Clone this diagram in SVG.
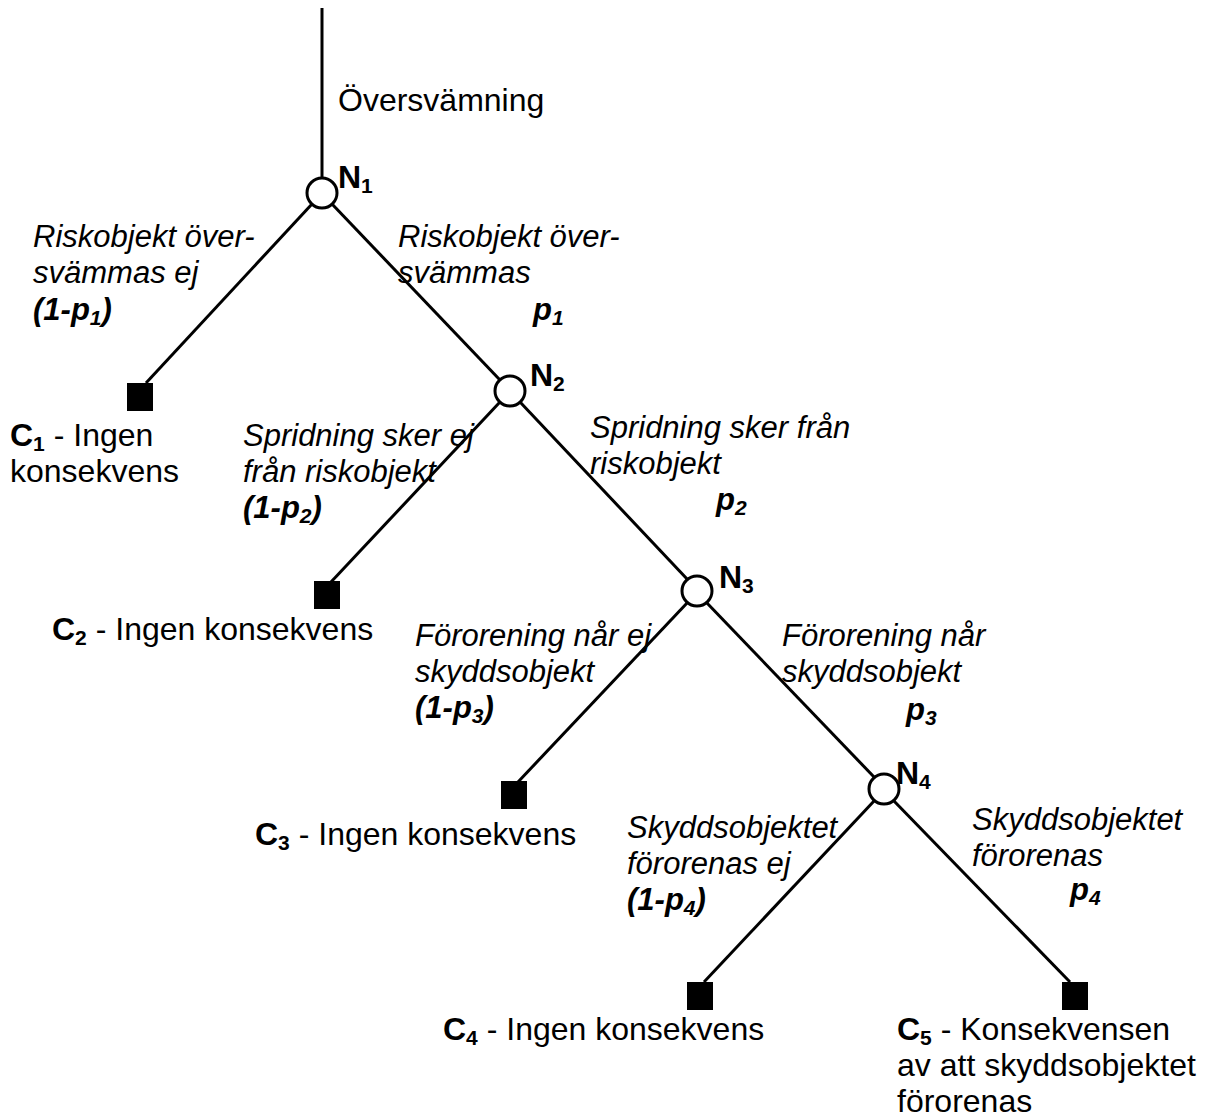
<svg xmlns="http://www.w3.org/2000/svg" width="1205" height="1119" viewBox="0 0 1205 1119">
<style>
text{font-family:"Liberation Sans",Arial,sans-serif;font-size:32px;fill:#000}
.i{font-style:italic;font-size:31px}
.b{font-weight:bold}
.bi{font-style:italic;font-weight:bold;font-size:31px}
.s{font-size:21px}
.ln{stroke:#000;stroke-width:3;fill:none}
.chance{fill:#fff;stroke:#000;stroke-width:3}
.end{fill:#000}
</style>
<rect width="1205" height="1119" fill="#fff"/>
<g id="connectors">
<line class="ln" x1="322" y1="8" x2="322" y2="178"/>
<line class="ln" x1="312" y1="204" x2="146" y2="383"/>
<line class="ln" x1="332" y1="204" x2="500" y2="380"/>
<line class="ln" x1="500" y1="402" x2="331" y2="582"/>
<line class="ln" x1="520" y1="402" x2="688" y2="580"/>
<line class="ln" x1="688" y1="602" x2="518" y2="782"/>
<line class="ln" x1="706" y1="602" x2="875" y2="778"/>
<line class="ln" x1="875" y1="800" x2="704" y2="982"/>
<line class="ln" x1="893" y1="800" x2="1070" y2="982"/>
</g>
<text x="338" y="111">Översvämning</text>
<g id="N1"><circle class="chance" cx="322" cy="193" r="15"/><text class="b" x="338" y="188">N<tspan class="s" dy="5">1</tspan></text></g>
<g id="N2"><circle class="chance" cx="510" cy="391" r="15"/><text class="b" x="530" y="386">N<tspan class="s" dy="5">2</tspan></text></g>
<g id="N3"><circle class="chance" cx="697" cy="591" r="15"/><text class="b" x="719" y="588">N<tspan class="s" dy="5">3</tspan></text></g>
<g id="N4"><circle class="chance" cx="884" cy="789" r="15"/><text class="b" x="896" y="784">N<tspan class="s" dy="5">4</tspan></text></g>
<g id="C1"><rect class="end" x="127" y="383" width="26" height="28"/><text x="10" y="446"><tspan class="b">C<tspan class="s" dy="5">1</tspan></tspan><tspan dy="-5"> - Ingen</tspan></text><text x="10" y="482">konsekvens</text></g>
<g id="C2"><rect class="end" x="314" y="581" width="26" height="28"/><text x="52" y="640"><tspan class="b">C<tspan class="s" dy="5">2</tspan></tspan><tspan dy="-5"> - Ingen konsekvens</tspan></text></g>
<g id="C3"><rect class="end" x="501" y="781" width="26" height="28"/><text x="255" y="845"><tspan class="b">C<tspan class="s" dy="5">3</tspan></tspan><tspan dy="-5"> - Ingen konsekvens</tspan></text></g>
<g id="C4"><rect class="end" x="687" y="982" width="26" height="28"/><text x="443" y="1040"><tspan class="b">C<tspan class="s" dy="5">4</tspan></tspan><tspan dy="-5"> - Ingen konsekvens</tspan></text></g>
<g id="C5"><rect class="end" x="1062" y="982" width="26" height="28"/><text x="897" y="1040"><tspan class="b">C<tspan class="s" dy="5">5</tspan></tspan><tspan dy="-5"> - Konsekvensen</tspan></text><text x="897" y="1076">av att skyddsobjektet</text><text x="897" y="1112">förorenas</text></g>
<g id="labels">
<text class="i" x="33" y="247">Riskobjekt över-</text>
<text class="i" x="33" y="283">svämmas ej</text>
<text class="bi" x="33" y="320">(1-p<tspan class="s" dy="5">1</tspan><tspan dy="-5">)</tspan></text>
<text class="i" x="398" y="247">Riskobjekt över-</text>
<text class="i" x="398" y="283">svämmas</text>
<text class="bi" x="533" y="320">p<tspan class="s" dy="5">1</tspan></text>
<text class="i" x="243" y="446">Spridning sker ej</text>
<text class="i" x="243" y="482">från riskobjekt</text>
<text class="bi" x="243" y="518">(1-p<tspan class="s" dy="5">2</tspan><tspan dy="-5">)</tspan></text>
<text class="i" x="590" y="438">Spridning sker från</text>
<text class="i" x="590" y="474">riskobjekt</text>
<text class="bi" x="716" y="510">p<tspan class="s" dy="5">2</tspan></text>
<text class="i" x="415" y="646">Förorening når ej</text>
<text class="i" x="415" y="682">skyddsobjekt</text>
<text class="bi" x="415" y="718">(1-p<tspan class="s" dy="5">3</tspan><tspan dy="-5">)</tspan></text>
<text class="i" x="782" y="646">Förorening når</text>
<text class="i" x="782" y="682">skyddsobjekt</text>
<text class="bi" x="906" y="720">p<tspan class="s" dy="5">3</tspan></text>
<text class="i" x="627" y="838">Skyddsobjektet</text>
<text class="i" x="627" y="874">förorenas ej</text>
<text class="bi" x="627" y="910">(1-p<tspan class="s" dy="5">4</tspan><tspan dy="-5">)</tspan></text>
<text class="i" x="972" y="830">Skyddsobjektet</text>
<text class="i" x="972" y="866">förorenas</text>
<text class="bi" x="1070" y="900">p<tspan class="s" dy="5">4</tspan></text>
</g>
</svg>
